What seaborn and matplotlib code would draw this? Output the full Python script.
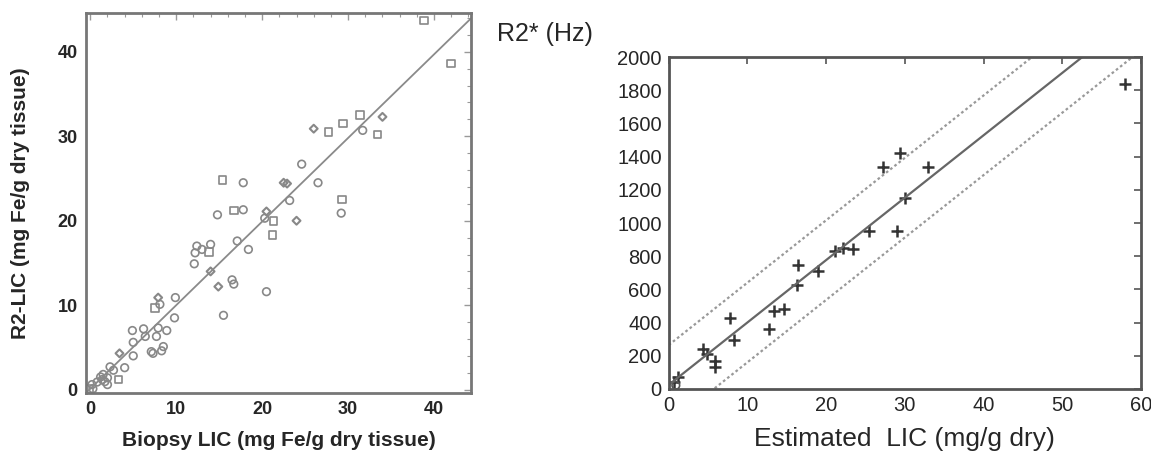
import numpy as np
import pandas as pd
import matplotlib
matplotlib.use("Agg")
import matplotlib.pyplot as plt
import seaborn as sns
from matplotlib.ticker import MultipleLocator

# ── Left panel: biopsy LIC vs R2-LIC ──────────────────────────────────────────
circle_x = [31.7, 24.6, 17.8, 26.5, 23.2, 29.2, 14.8, 17.8, 20.3, 17.1, 18.4, 12.4,
            12.2, 13.0, 14.0, 12.1, 16.5, 16.7, 20.5, 15.5, 9.9, 8.1, 9.8, 4.9,
            6.2, 7.9, 8.9, 6.4, 7.7, 5.0, 7.1, 7.3, 8.5, 8.3, 5.0, 4.0, 2.3, 2.7,
            1.5, 2.0, 1.7, 0.8, 0.2, 1.4, 1.2, 2.0, 0.3]
circle_y = [30.7, 26.7, 24.5, 24.5, 22.4, 20.9, 20.7, 21.3, 20.3, 17.6, 16.6, 17.0,
            16.2, 16.6, 17.2, 14.9, 13.0, 12.5, 11.6, 8.8, 10.9, 10.1, 8.5, 7.0,
            7.2, 7.3, 7.0, 6.3, 6.3, 5.6, 4.5, 4.3, 5.1, 4.6, 4.0, 2.6, 2.7, 2.3,
            1.8, 1.4, 0.95, 0.9, 0.6, 1.2, 1.5, 0.6, 0.1]
square_x = [38.8, 42.0, 31.4, 29.4, 27.7, 33.4, 15.4, 29.3, 16.7, 21.3, 21.2, 13.8,
            7.5, 3.3, -0.1]
square_y = [43.7, 38.6, 32.5, 31.5, 30.5, 30.2, 24.8, 22.5, 21.2, 20.0, 18.3, 16.3,
            9.7, 1.2, 0.1]
diamond_x = [26.0, 34.0, 22.5, 22.9, 20.5, 24.0, 14.0, 14.9, 7.9, 3.4]
diamond_y = [30.9, 32.3, 24.5, 24.4, 21.1, 20.0, 14.0, 12.2, 10.9, 4.3]
left_slope, left_intercept = 0.99, 0.1

# ── Right panel: estimated LIC vs R2* ─────────────────────────────────────────
plus_x = [58.0, 29.4, 27.2, 33.0, 30.0, 25.5, 29.0, 21.1, 22.1, 23.4, 16.4, 16.3,
          19.0, 13.4, 14.6, 12.75, 7.75, 8.25, 4.3, 4.8, 5.9, 5.9, 1.2, 0.7]
plus_y = [1840, 1420, 1340, 1340, 1150, 950, 955, 831, 849, 843, 747, 627,
          711, 470, 482, 361, 428, 295, 240, 210, 169, 133, 72, 40]
ring_x = [0.9]
ring_y = [22]
fit_slope, fit_intercept = 37.6, 25.0
band_offset = 240.0

sns.set_style("white")
plt.rcParams["font.family"] = ["Liberation Sans", "DejaVu Sans"]

fig = plt.figure(figsize=(11.51, 4.57), dpi=100)
ax1 = fig.add_axes([0.0747, 0.140, 0.3345, 0.8316])
ax2 = fig.add_axes([0.581, 0.1488, 0.4103, 0.7262])

# left panel
left_df = pd.concat([
    pd.DataFrame({"x": circle_x, "y": circle_y, "kind": "circle"}),
    pd.DataFrame({"x": square_x, "y": square_y, "kind": "square"}),
    pd.DataFrame({"x": diamond_x, "y": diamond_y, "kind": "diamond"}),
])
lx = np.array([-0.5, 44.3])
sns.lineplot(x=lx, y=left_slope * lx + left_intercept, ax=ax1,
             color="#8a8a8a", lw=1.3)
for kind, mk, size in [("circle", "o", 30), ("square", "s", 30), ("diamond", "D", 16)]:
    sub = left_df[left_df["kind"] == kind]
    sns.scatterplot(data=sub, x="x", y="y", marker=mk, s=size,
                    facecolor="none", edgecolor="#888888",
                    linewidth=1.2 if kind != "diamond" else 1.5,
                    legend=False, ax=ax1)
for coll in ax1.collections:
    coll.set_facecolor("none")
    coll.set_edgecolor("#888888")

ax1.set_xlim(-0.5, 44.3)
ax1.set_ylim(-0.4, 44.6)
ax1.xaxis.set_major_locator(MultipleLocator(10))
ax1.yaxis.set_major_locator(MultipleLocator(10))
ax1.xaxis.set_minor_locator(MultipleLocator(2))
ax1.yaxis.set_minor_locator(MultipleLocator(2))
ax1.tick_params(which="both", direction="in", top=True, right=True,
                color="#999999", labelsize=13, pad=6)
ax1.tick_params(which="major", length=5, width=1)
ax1.tick_params(which="minor", length=3, width=0.8)
for lab in ax1.get_xticklabels() + ax1.get_yticklabels():
    lab.set_fontweight("bold")
ax1.set_xlabel("Biopsy LIC (mg Fe/g dry tissue)", fontsize=15,
               fontweight="bold", labelpad=9)
ax1.set_ylabel("R2-LIC (mg Fe/g dry tissue)", fontsize=15,
               fontweight="bold", labelpad=20)
for sp in ax1.spines.values():
    sp.set_color("#777777")
    sp.set_linewidth(2)

# right panel
rx = np.array([0.0, 60.0])
sns.lineplot(x=rx, y=fit_slope * rx + fit_intercept, ax=ax2,
             color="#666666", lw=1.6)
sns.lineplot(x=rx, y=fit_slope * rx + fit_intercept + band_offset, ax=ax2,
             color="#999999", lw=1.6, linestyle=(0, (1.2, 1.2)))
sns.lineplot(x=rx, y=fit_slope * rx + fit_intercept - band_offset, ax=ax2,
             color="#999999", lw=1.6, linestyle=(0, (1.2, 1.2)))
sns.scatterplot(x=plus_x, y=plus_y, marker="+", s=80, color="#333333",
                linewidth=1.8, ax=ax2, legend=False)
sns.scatterplot(x=ring_x, y=ring_y, marker="o", s=30, facecolor="none",
                edgecolor="#555555", linewidth=1.2, ax=ax2, legend=False)

ax2.set_xlim(0, 60)
ax2.set_ylim(0, 2000)
ax2.xaxis.set_major_locator(MultipleLocator(10))
ax2.yaxis.set_major_locator(MultipleLocator(200))
ax2.tick_params(direction="in", top=True, right=True, length=5, width=1.2,
                color="#555555", labelsize=14.5, pad=5)
ax2.set_xlabel("Estimated  LIC (mg/g dry)", fontsize=19, labelpad=9)
for sp in ax2.spines.values():
    sp.set_color("#555555")
    sp.set_linewidth(2)
fig.text(0.432, 0.926, "R2* (Hz)", fontsize=18, ha="left", va="center")

plt.savefig("out.png", dpi=100, facecolor="white")
